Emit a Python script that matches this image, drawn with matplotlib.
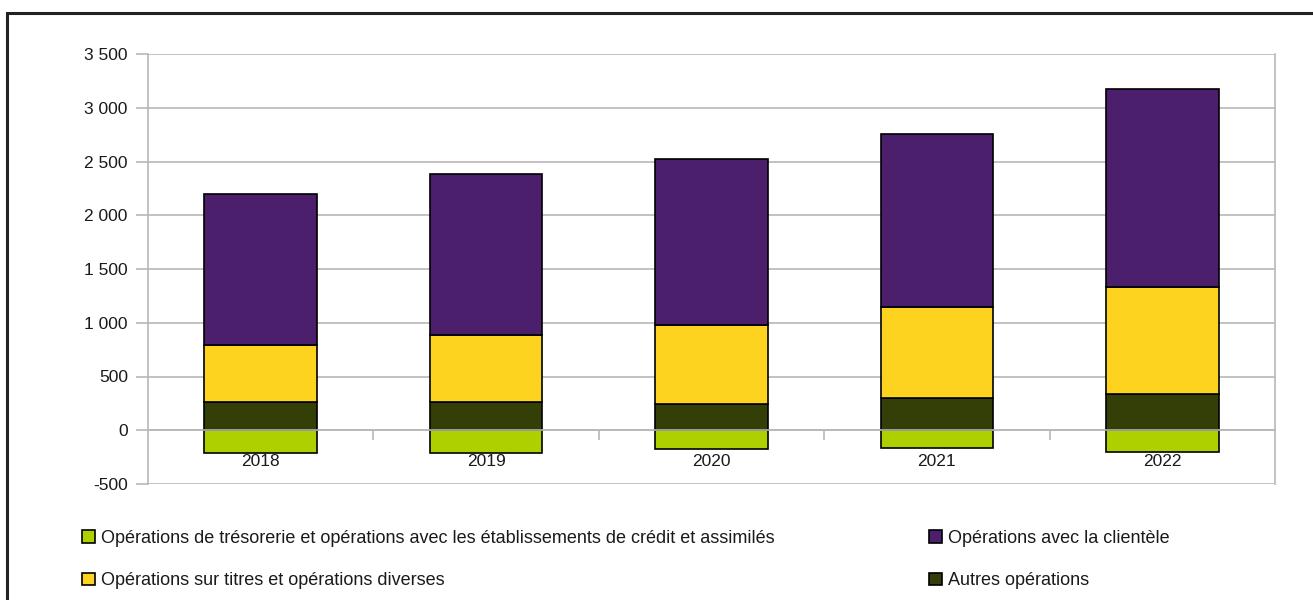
import matplotlib
matplotlib.use('Agg')
import matplotlib.pyplot as plt
from matplotlib.patches import Rectangle
from matplotlib.ticker import FuncFormatter, FixedLocator

plt.rcParams['font.family'] = ['Liberation Sans', 'DejaVu Sans']

# données
annees = ['2018', '2019', '2020', '2021', '2022']
tresorerie = [-213, -213, -179, -163, -198]
autres = [266, 266, 248, 300, 334]
titres = [526, 616, 732, 845, 999]
clientele = [1406, 1504, 1540, 1607, 1843]

lab_tres = "Opérations de trésorerie et opérations avec les établissements de crédit et assimilés"
lab_cli = "Opérations avec la clientèle"
lab_tit = "Opérations sur titres et opérations diverses"
lab_aut = "Autres opérations"

c_tres = '#aecf00'
c_aut = '#333f06'
c_tit = '#fed320'
c_cli = '#4b1f6b'
grid_col = '#b8b8b8'

W, H = 1313, 600
fig = plt.figure(figsize=(W / 100, H / 100), dpi=100)
ax = fig.add_axes([148 / W, 1 - 484 / H, (1275 - 148) / W, (484 - 54) / H])

x = list(range(len(annees)))
kw = dict(width=0.5, edgecolor='black', linewidth=1.2)
b1 = ax.bar(x, tresorerie, color=c_tres, **kw)
b2 = ax.bar(x, autres, color=c_aut, **kw)
base = autres
b3 = ax.bar(x, titres, bottom=base, color=c_tit, **kw)
base2 = [a + t for a, t in zip(autres, titres)]
b4 = ax.bar(x, clientele, bottom=base2, color=c_cli, **kw)

ax.set_xlim(-0.5, 4.5)
ax.set_ylim(-500, 3500)
ax.set_yticks(range(-500, 3501, 500))
ax.yaxis.set_major_formatter(FuncFormatter(lambda v, p: '{:,}'.format(int(v)).replace(',', ' ')))
ax.set_axisbelow(True)
ax.grid(axis='y', color=grid_col, linewidth=1.2)

for s in ax.spines.values():
    s.set_color(grid_col)
    s.set_linewidth(1.2)
ax.spines['bottom'].set_position(('data', 0))
ax.spines['top'].set_visible(False)

ax.set_xticks(x)
ax.set_xticklabels(annees)
ax.xaxis.set_minor_locator(FixedLocator([0.5, 1.5, 2.5, 3.5]))
ax.tick_params(axis='x', which='major', length=0, pad=17, labelsize=12.5, labelcolor='#1a1a1a')
ax.tick_params(axis='x', which='minor', length=7, width=1.2, color=grid_col, direction='out')
ax.tick_params(axis='y', length=8.5, width=1.2, color=grid_col, pad=6, labelsize=12.5, labelcolor='#1a1a1a')

# légende en deux colonnes
leg_kw = dict(loc='upper left', frameon=False, fontsize=13, handlelength=0.7, handleheight=0.7,
              handletextpad=0.35, labelspacing=1.4, borderpad=0, borderaxespad=0)
l1 = fig.legend([b1, b3], [lab_tres, lab_tit], bbox_to_anchor=(82 / W, 1 - 530 / H), **leg_kw)
l2 = fig.legend([b4, b2], [lab_cli, lab_aut], bbox_to_anchor=(929 / W, 1 - 530 / H), **leg_kw)
for leg in (l1, l2):
    for t in leg.get_texts():
        t.set_color('#1a1a1a')

# cadre extérieur
fig.patches.append(Rectangle((7 / W, -0.1), 1.2, 1.1 - 13 / H, transform=fig.transFigure,
                             fill=False, edgecolor='#222222', linewidth=2.2))

fig.savefig('out.png', dpi=100)
